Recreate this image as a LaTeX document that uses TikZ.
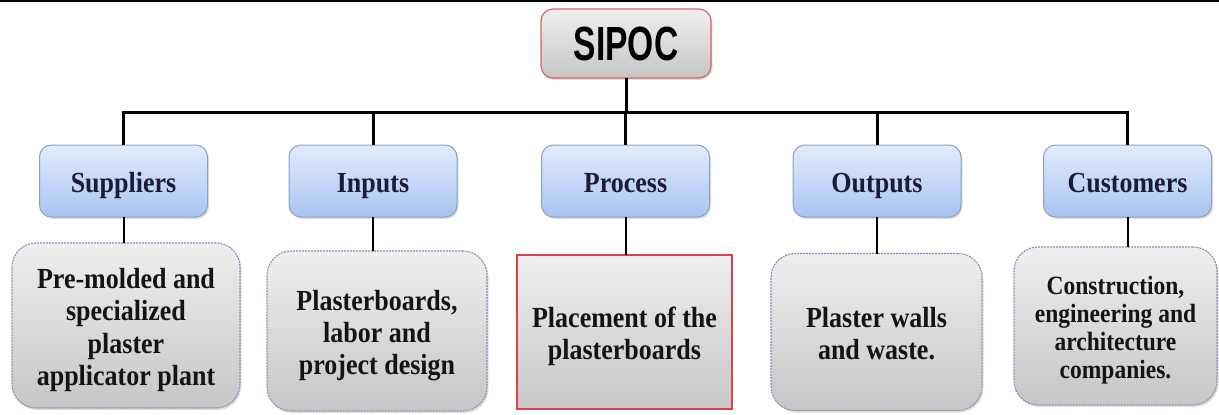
\documentclass[tikz,border=0pt]{standalone}
\usepackage{fontspec}
\usepackage{graphicx}
\setmainfont{Liberation Serif}
\newfontfamily\arialf{Liberation Sans}
\usetikzlibrary{shadows}
\definecolor{hdrtop}{HTML}{E2ECFC}
\definecolor{hdrbot}{HTML}{A8C4F2}
\definecolor{hdrline}{HTML}{8CA0C0}
\definecolor{dettop}{HTML}{EFEFEF}
\definecolor{detbot}{HTML}{C6C6C6}
\definecolor{detline}{HTML}{7F93B5}
\definecolor{redline}{HTML}{E0404C}
\definecolor{pinkline}{HTML}{D8606C}
\definecolor{hdrtext}{HTML}{1C1C38}
\newcommand\boxtxt[3]{\raisebox{-5pt}[\height][\depth]{\scalebox{1}[1.12]{\fontsize{#1}{#2}\selectfont\bfseries\begin{tabular}{@{}c@{}}#3\end{tabular}}}}
\tikzset{
  hdrbox/.style={draw=hdrline, line width=1pt, rounded corners=12pt, top color=hdrtop, bottom color=hdrbot,
    minimum width=168pt, minimum height=72pt, inner sep=0pt, outer sep=0pt, text=hdrtext,
    drop shadow={shadow xshift=1.5pt, shadow yshift=-2pt, opacity=0.25}},
  detbox/.style={draw=detline, line width=1.1pt, dash pattern=on 2pt off 1pt, rounded corners=24pt,
    top color=dettop, bottom color=detbot, inner sep=0pt, outer sep=0pt, text=black!92,
    drop shadow={shadow xshift=1.5pt, shadow yshift=-2pt, opacity=0.25}},
  procbox/.style={draw=redline, line width=1.1pt, top color=dettop, bottom color=detbot,
    inner sep=0pt, outer sep=0pt, text=black!92},
  topbox/.style={draw=pinkline, line width=1.2pt, rounded corners=12pt, top color=dettop, bottom color=detbot,
    minimum width=170pt, minimum height=69pt, inner sep=0pt, outer sep=0pt,
    drop shadow={shadow xshift=1.5pt, shadow yshift=-2pt, opacity=0.25}},
  thick conn/.style={draw=black, line width=3pt},
  thin conn/.style={draw=black, line width=2pt},
}
\begin{document}
\begin{tikzpicture}[x=1pt, y=-1pt]
\useasboundingbox (0,0) rectangle (1219,415);
\fill[white] (0,0) rectangle (1219,415);
\coordinate (tl) at (0,1);
\coordinate (tr) at (1219,1);
\draw[line width=1.6pt] (tl) -- (tr);

\node[topbox] (sipoc) at (626,43.5) {\scalebox{0.7}[1]{\arialf\bfseries\fontsize{48}{48}\selectfont SIPOC}};

\node[hdrbox] (sup) at (123.5,181) {\boxtxt{26}{28}{Suppliers}};
\node[hdrbox] (inp) at (373,181) {\boxtxt{26}{28}{Inputs}};
\node[hdrbox] (pro) at (625.5,181) {\boxtxt{26}{28}{Process}};
\node[hdrbox] (out) at (877,181) {\boxtxt{26}{28}{Outputs}};
\node[hdrbox] (cus) at (1127.5,181) {\boxtxt{26}{28}{Customers}};

\node[detbox, minimum width=228pt, minimum height=165pt] (supd) at (126,325.5)
  {\boxtxt{26}{29}{Pre-molded and\\specialized\\plaster\\applicator plant}};
\node[detbox, minimum width=220pt, minimum height=160pt] (inpd) at (377,331)
  {\boxtxt{26}{28.5}{Plasterboards,\\labor and\\project design}};
\node[procbox, minimum width=215pt, minimum height=154pt] (prod) at (624.5,332)
  {\boxtxt{26}{28.5}{Placement of the\\plasterboards}};
\node[detbox, minimum width=211pt, minimum height=157pt] (outd) at (876.5,332)
  {\boxtxt{26}{28.5}{Plaster walls\\and waste.}};
\node[detbox, minimum width=203pt, minimum height=158pt] (cusd) at (1115.5,326)
  {\boxtxt{23.5}{25}{Construction,\\engineering and\\architecture\\companies.}};

\coordinate (barL) at (123.5,112);
\coordinate (barR) at (1127.5,112);
\draw[thick conn, line cap=rect] (barL) -- (barR);
\draw[thick conn] (sipoc.south) -- (sipoc.south |- barL);
\foreach \n in {sup,inp,pro,out,cus}{
  \draw[thick conn] (\n.north) -- (\n.north |- barL);
}
\draw[thin conn] (sup.south) -- (sup.south |- supd.north);
\draw[thin conn] (inp.south) -- (inp.south |- inpd.north);
\draw[thin conn] (pro.south) -- (pro.south |- prod.north);
\draw[thin conn] (out.south) -- (out.south |- outd.north);
\draw[thin conn] (cus.south) -- (cus.south |- cusd.north);
\end{tikzpicture}
\end{document}
